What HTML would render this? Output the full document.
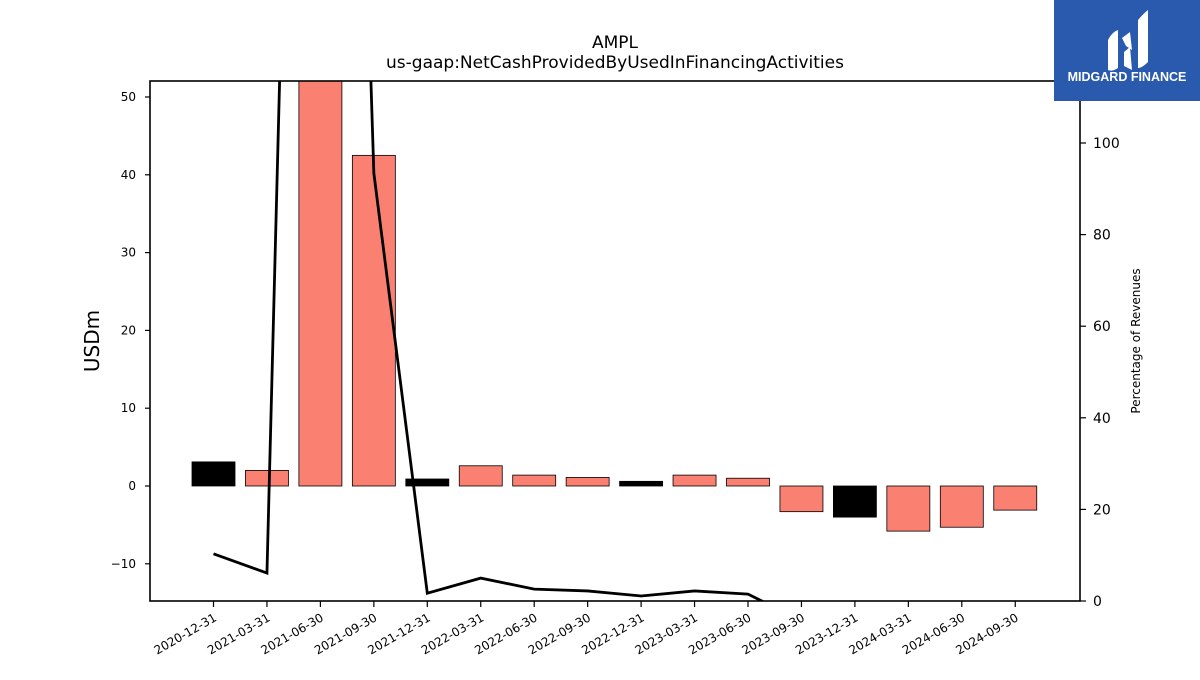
<!DOCTYPE html>
<html><head><meta charset="utf-8"><style>
body{margin:0;background:#fff;width:1200px;height:675px;overflow:hidden;font-family:"Liberation Sans","DejaVu Sans",sans-serif}
</style></head><body>
<svg id="chart" width="1200" height="675" xmlns="http://www.w3.org/2000/svg" font-family="DejaVu Sans, Liberation Sans, sans-serif">
<defs><clipPath id="plotclip"><rect x="150" y="81" width="930" height="520"/></clipPath></defs>
<text x="615" y="48" text-anchor="middle" font-size="17">AMPL</text>
<text x="615" y="68" text-anchor="middle" font-size="17">us-gaap:NetCashProvidedByUsedInFinancingActivities</text>
<g id="bars" clip-path="url(#plotclip)"></g>
<g id="line" clip-path="url(#plotclip)"></g>
<rect x="150" y="81" width="930" height="520" fill="none" stroke="#000" stroke-width="1.6"/>
<g id="axes"></g>
<text transform="translate(99,341) rotate(-90)" text-anchor="middle" font-size="20">USDm</text>
<text transform="translate(1140,341) rotate(-90)" text-anchor="middle" font-size="12">Percentage of Revenues</text>
<g>
<rect x="1054" y="0" width="146" height="101" fill="#2a5aad"/>
<path d="M1108 40 Q1112 32 1118 30 L1118 68 Q1112 72 1108 70 Z" fill="#fff"/>
<path d="M1122 38 L1130 32 L1132 50 L1126 46 Z" fill="#fff"/>
<path d="M1124 52 L1130 47 L1132 70 L1124 66 Z" fill="#fff"/>
<path d="M1138 20 Q1143 14 1148 10 L1148 62 Q1142 68 1138 68 Z" fill="#fff"/>
<text x="1127" y="81" text-anchor="middle" font-size="12.5" font-weight="bold" fill="#fff" font-family="Liberation Sans, sans-serif">MIDGARD FINANCE</text>
</g>
</svg>
<script>
const categories=["2020-12-31","2021-03-31","2021-06-30","2021-09-30","2021-12-31","2022-03-31","2022-06-30","2022-09-30","2022-12-31","2023-03-31","2023-06-30","2023-09-30","2023-12-31","2024-03-31","2024-06-30","2024-09-30"];
const barValues=[3.1,2.0,60,42.5,0.9,2.6,1.4,1.1,0.6,1.4,1.0,-3.3,-4.0,-5.8,-5.3,-3.1];
const barBlack=[1,0,0,0,1,0,0,0,1,0,0,0,1,0,0,0];
const pctValues=[10.3,6.1,460,93.4,1.7,5.0,2.6,2.2,1.1,2.2,1.5,-4.3,-8,-10,-10,-8];
const leftTicks=[-10,0,10,20,30,40,50];
const rightTicks=[0,20,40,60,80,100];
const NS="http://www.w3.org/2000/svg";
const x0=213.5,step=53.45,bw=43;
function xs(i){return x0+i*step;}
function yl(v){return 486-v*7.78;}
function yr(v){return 601-v*4.58;}
function mk(tag,attrs,parent){const e=document.createElementNS(NS,tag);for(const k in attrs)e.setAttribute(k,attrs[k]);parent.appendChild(e);return e;}
const gb=document.getElementById('bars'),gl=document.getElementById('line'),ga=document.getElementById('axes');
barValues.forEach((v,i)=>{
 const y=Math.min(yl(v),yl(0)),h=Math.abs(yl(v)-yl(0));
 const r=mk('rect',{x:xs(i)-bw/2,y:y,width:bw,height:h,fill:barBlack[i]?'#000':'#fa8072',stroke:'#000','stroke-width':0.8},gb);
 
 
});
const pts=pctValues.map((v,i)=>xs(i)+','+yr(v)).join(' ');
const pl=mk('polyline',{points:pts,fill:'none',stroke:'#000','stroke-width':2.8,'stroke-linejoin':'miter'},gl);


leftTicks.forEach(t=>{
 const y=yl(t);
 const l=mk('line',{x1:145,x2:150,y1:y,y2:y,stroke:'#000','stroke-width':1.2},ga);
 
 
 const tx=mk('text',{x:136,y:y+4,'text-anchor':'end','font-size':12},ga);
 tx.textContent=t<0?'\u2212'+Math.abs(t):t;
 
 
});
rightTicks.forEach(t=>{
 const y=yr(t);
 const l=mk('line',{x1:1080,x2:1086,y1:y,y2:y,stroke:'#000','stroke-width':1.2},ga);
 
 
 const tx=mk('text',{x:1093,y:y+5,'font-size':14},ga);
 tx.textContent=t;
 
 
});
categories.forEach((c,i)=>{
 const x=xs(i);
 const l=mk('line',{x1:x,x2:x,y1:601,y2:607,stroke:'#000','stroke-width':1.2},ga);
 
 
 const tx=mk('text',{transform:'translate('+(x+4)+',620) rotate(-30)','text-anchor':'end','font-size':12},ga);
 tx.textContent=c;
 
 
});
</script>
</body></html>
